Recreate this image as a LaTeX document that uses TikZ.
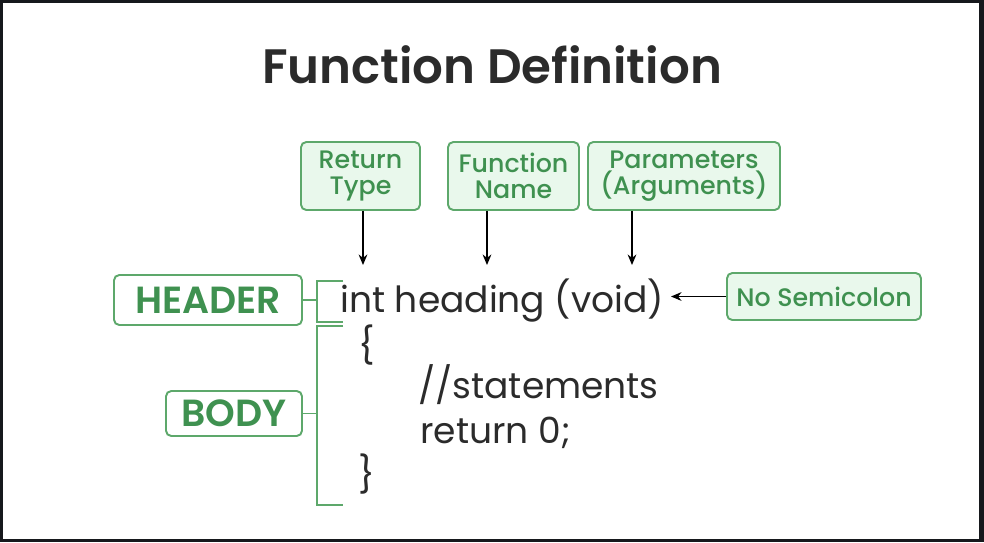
\documentclass[tikz,border=0pt]{standalone}
\usepackage{fontspec}
\setmainfont{Poppins}
\newfontfamily\boxfont{Poppins Medium}
\newfontfamily\headfont{Poppins SemiBold}
\usetikzlibrary{arrows.meta,positioning}
\definecolor{frame}{HTML}{16181C}
\definecolor{gfill}{HTML}{E9F8EC}
\definecolor{gline}{HTML}{5DA86B}
\definecolor{gtext}{HTML}{3F9150}
\definecolor{ink}{HTML}{2B2B2B}

\begin{document}
\begin{tikzpicture}
    [x=0.02cm, y=-0.02cm,
    tag/.style={draw=gline, fill=gfill, line width=1.1pt, rounded corners=3pt, text=gtext,
        font=\boxfont\fontsize{14.4}{15}\selectfont, align=center, inner sep=0pt},
    part/.style={draw=gline, fill=white, line width=1.1pt, rounded corners=3pt, text=gtext,
        font=\headfont\fontsize{21.5}{22}\selectfont, inner sep=0pt},
    code/.style={text=ink, font=\fontsize{20.5}{22}\selectfont, anchor=base west, inner sep=0pt},
    pointer/.style={-{Stealth[length=6pt,width=5pt]}, line width=0.8pt, black},
    brace/.style={draw=gline, line width=1.1pt}]
    %% frame
    \fill[frame] (0,0) rectangle (984,542);
    \fill[white] (3,3) rectangle (979,539);
    \useasboundingbox (0,0) rectangle (984,542);

    \node[text=ink, font=\headfont\fontsize{27.5}{30}\selectfont] (title) at (492,65) {Function Definition};

    %% labels on top
    \node[tag, minimum width=2.38cm, minimum height=1.36cm] (ret) at (360.5,176) {Return\\Type};
    \node[tag, minimum width=2.62cm, minimum height=1.36cm] (fname) at (513.5,176) {Function\\Name};
    \node[tag, minimum width=3.84cm, minimum height=1.36cm] (par) at (684,176) {Parameters\\(Arguments)};
    \node[tag, minimum width=3.88cm, minimum height=0.94cm] (semi) at (824,296.5) {No Semicolon};

    %% code
    \node[code] (head) at (340,312) {int heading (void)};
    \node[code] (open) at (358,358) {\{};
    \node[code] (stmt) at (418,398) {//statements};
    \node[code] (ret0) at (420,443) {return 0;};
    \node[code] (close) at (358,487) {\}};

    \coordinate (a1) at (363,265);
    \coordinate (a2) at (487,265);
    \coordinate (a3) at (632,265);
    \coordinate (a4) at (671,296.5);
    \draw[pointer] (ret.south -| a1) -- (a1);
    \draw[pointer] (fname.south -| a2) -- (a2);
    \draw[pointer] (par.south -| a3) -- (a3);
    \draw[pointer] (semi.west) -- (a4);

    %% header / body
    \node[part, minimum width=3.76cm, minimum height=1.0cm] (hdr) at (208,300) {HEADER};
    \node[part, minimum width=2.72cm, minimum height=0.9cm] (body) at (234,413.5) {BODY};
    \coordinate (h1) at (343,281);
    \coordinate (h2) at (343,322);
    \coordinate (b1) at (343,326);
    \coordinate (b2) at (343,505);
    \draw[brace] (h1) -- ++(-26,0) |- (h2);
    \draw[brace] (b1) -- ++(-26,0) |- (b2);
    \draw[brace] (hdr.east) -- (317,300);
    \draw[brace] (body.east) -- (317,413.5);
\end{tikzpicture}
\end{document}
